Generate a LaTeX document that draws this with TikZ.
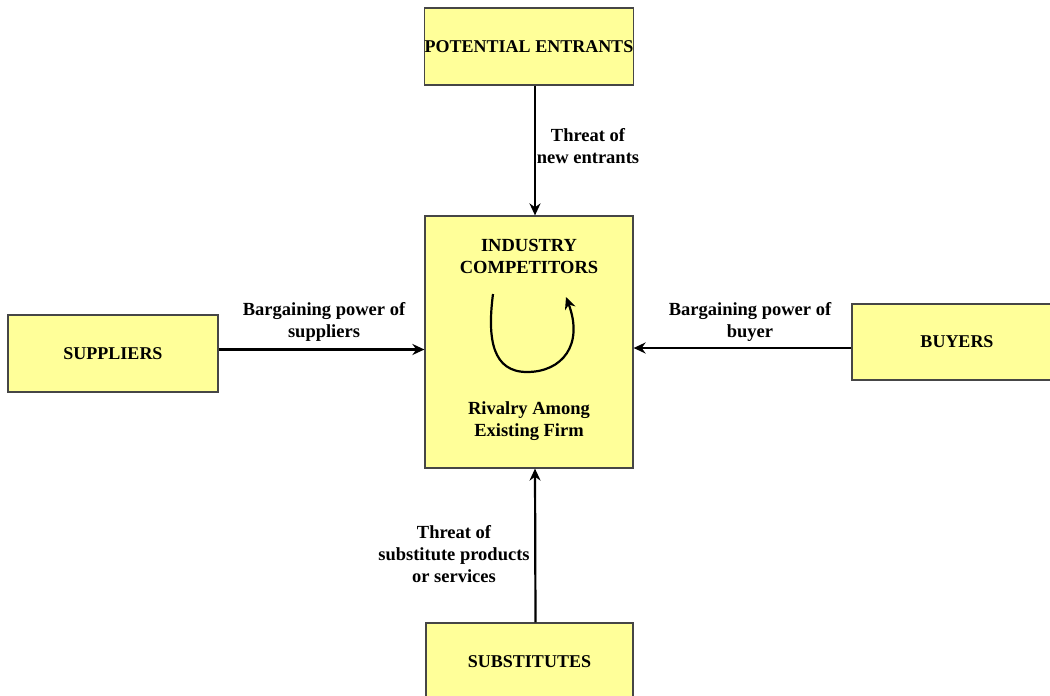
\documentclass[tikz,border=0pt]{standalone}
\usepackage{fontspec}
\setmainfont{Liberation Serif}
\usetikzlibrary{arrows.meta}
\definecolor{boxyellow}{RGB}{255,255,153}
\definecolor{boxline}{RGB}{70,70,70}
\tikzset{
  force/.style={draw=boxline,fill=boxyellow,line width=1.2pt,inner sep=0pt,
    minimum width=208pt,minimum height=77pt,font=\bfseries\fontsize{18}{22}\selectfont},
  pull/.style={->,line width=2.2pt},
  lbl/.style={align=center,inner sep=0pt,font=\bfseries\fontsize{18.5}{22}\selectfont}
}
\begin{document}
\begin{tikzpicture}[x=1pt,y=-1pt,>={Stealth[length=12pt,width=11pt]}]
\useasboundingbox (0,0) rectangle (1050,696);
% the five forces
\node[force] (entrants) at (529,46.5) {POTENTIAL ENTRANTS};
\node[force,minimum height=252pt] (industry) at (529,342) {};
\node[force,minimum width=210pt] (suppliers) at (113,353.5) {SUPPLIERS};
\node[force,minimum width=210pt,minimum height=76pt] (buyers) at (957,342) {BUYERS};
\node[force,minimum width=207pt] (subst) at (529.5,661.5) {SUBSTITUTES};
% text inside the middle box
\node[lbl] (rivals) at (529,256) {INDUSTRY\\COMPETITORS};
\node[lbl] (rivalry) at (529,421) {Rivalry Among\\Existing Firm};
\draw[->,line width=2.2pt] (493,294) .. controls (487,340) and (493,372) .. (527,372)
  .. controls (562,372) and (584,345) .. (566,297);
% arrows into the middle
\draw[pull] ([xshift=6pt]entrants.south) -- ([xshift=6pt]industry.north);
\draw[pull] ([yshift=4pt]suppliers.east) coordinate (s) -- (s -| industry.west);
\draw[pull] ([yshift=-6pt]buyers.west) coordinate (b) -- (b -| industry.east);
\draw[pull] ([xshift=6pt]subst.north) -- ([xshift=6pt]industry.south);
% arrow labels
\node[lbl] (newent) at (588,146) {Threat of\\new entrants};
\node[lbl] (supp) at (324,322) {Bargaining power of\\suppliers};
\node[lbl] (buy) at (750,322) {Bargaining power of\\buyer};
\node[lbl] (substl) at (454,554) {Threat of\\substitute products\\or services};
\end{tikzpicture}
\end{document}
